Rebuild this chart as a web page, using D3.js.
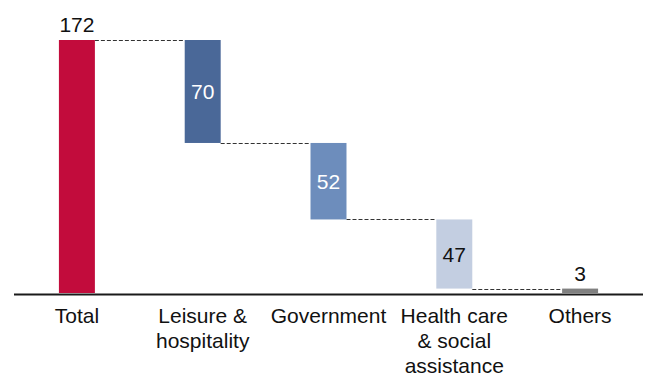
<!DOCTYPE html>
<html>
<head>
<meta charset="utf-8">
<script src="https://cdn.jsdelivr.net/npm/d3@7"></script>
<style>
  html, body { margin: 0; padding: 0; background: #fff; }
  svg { display: block; font-family: "Liberation Sans", Arial, sans-serif; }
</style>
</head>
<body>
<svg id="chart" width="650" height="376"></svg>
<script>
// Waterfall: total broken down into contributions by sector
const categories = ["Total", "Leisure & hospitality", "Government", "Health care & social assistance", "Others"];
const labelLines = [["Total"], ["Leisure &", "hospitality"], ["Government"], ["Health care", "& social", "assistance"], ["Others"]];
const values = [172, 70, 52, 47, 3];
const colors = ["#C20C3C", "#4A6898", "#6D8DBC", "#C3CEE1", "#808080"];
const labelColors = ["#111", "#fff", "#fff", "#111", "#111"];

const svg = d3.select("#chart");

const x = d3.scaleBand()
  .domain(categories)
  .range([14, 643])
  .paddingInner(0.714)
  .paddingOuter(0.357);

const y = d3.scaleLinear()
  .domain([0, 172])
  .range([293, 40]);

// Floating segments: first bar is the total, the rest step down from it
const segs = [];
let level = values[0];
values.forEach((v, i) => {
  if (i === 0) {
    segs.push({ cat: categories[i], v, y0: 0, y1: v });
  } else {
    segs.push({ cat: categories[i], v, y0: level - v, y1: level });
    level -= v;
  }
});

// Dashed connectors between adjacent bars
for (let i = 0; i < segs.length - 1; i++) {
  const yy = i === 0 ? segs[i].y1 : segs[i].y0;
  svg.append("line")
    .attr("x1", x(segs[i].cat) + x.bandwidth())
    .attr("x2", x(segs[i + 1].cat))
    .attr("y1", Math.round(y(yy)) + 0.5)
    .attr("y2", Math.round(y(yy)) + 0.5)
    .attr("stroke", "#333")
    .attr("stroke-width", 1)
    .attr("stroke-dasharray", "4,2");
}

// Bars
svg.selectAll("rect.bar")
  .data(segs)
  .join("rect")
  .attr("class", "bar")
  .attr("x", d => x(d.cat))
  .attr("width", x.bandwidth())
  .attr("y", d => y(d.y1))
  .attr("height", d => y(d.y0) - y(d.y1))
  .attr("fill", (d, i) => colors[i]);

// Baseline axis
svg.append("line")
  .attr("x1", 14).attr("x2", 643)
  .attr("y1", 294.5).attr("y2", 294.5)
  .attr("stroke", "#1a1a1a")
  .attr("stroke-width", 2);

// Value labels: inside for tall segments, above for the total and the tiny one
svg.selectAll("text.val")
  .data(segs)
  .join("text")
  .attr("class", "val")
  .attr("x", d => x(d.cat) + x.bandwidth() / 2)
  .attr("y", (d, i) => {
    if (i === 0 || i === segs.length - 1) return y(d.y1) - 8;
    return (y(d.y0) + y(d.y1)) / 2 + 7.5;
  })
  .attr("text-anchor", "middle")
  .attr("font-size", 21)
  .attr("fill", (d, i) => labelColors[i])
  .text(d => d.v);

// Category labels, wrapped onto several lines
const cl = svg.selectAll("text.cat")
  .data(categories)
  .join("text")
  .attr("class", "cat")
  .attr("x", d => x(d) + x.bandwidth() / 2)
  .attr("y", 323)
  .attr("text-anchor", "middle")
  .attr("font-size", 21)
  .attr("fill", "#111");
cl.each(function(d, i) {
  const t = d3.select(this);
  labelLines[i].forEach((ln, j) => {
    t.append("tspan")
      .attr("x", x(d) + x.bandwidth() / 2)
      .attr("dy", j === 0 ? 0 : 25)
      .text(ln);
  });
});
</script>
</body>
</html>
